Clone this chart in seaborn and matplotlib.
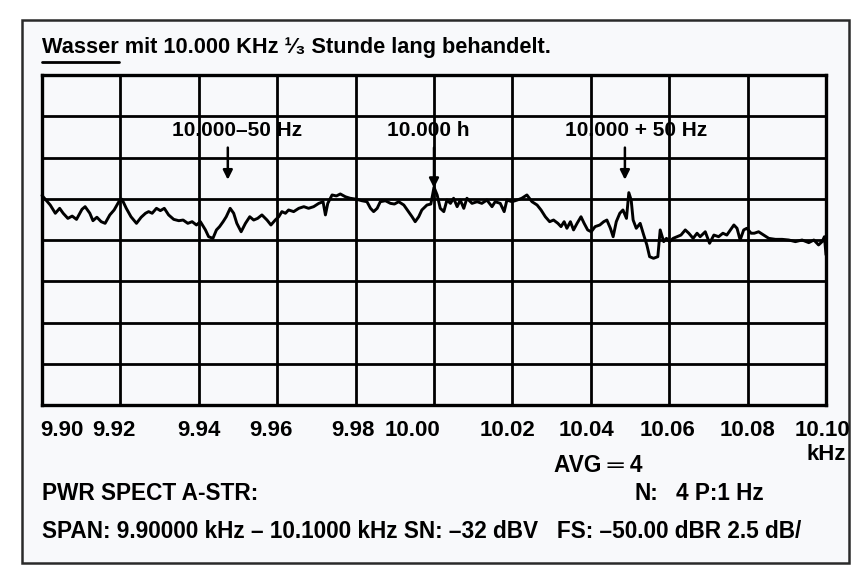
import numpy as np
import pandas as pd
import matplotlib
matplotlib.use("Agg")
import matplotlib.pyplot as plt
import matplotlib.transforms as mtransforms
from matplotlib.patches import Rectangle
from matplotlib.lines import Line2D
import seaborn as sns

# ---------------- data ----------------
offset_hz = [
    -100.0, -97.9, -96.6, -95.5, -94.6, -93.4, -92.3, -91.2, -89.8, -89.0,
    -87.8, -87.0, -86.0, -84.9, -83.9, -82.7, -81.6, -80.4, -79.6, -78.5,
    -77.3, -75.9, -74.7, -73.6, -72.8, -71.9, -70.8, -69.8, -68.8, -67.7,
    -66.4, -65.1, -64.0, -62.8, -61.7, -60.6, -59.6, -58.3, -57.5, -56.4,
    -55.5, -54.7, -53.8, -53.0, -52.0, -51.1, -50.3, -49.2, -48.1, -47.0,
    -46.0, -45.0, -43.9, -42.6, -41.6, -40.5, -39.6, -38.8, -37.9, -37.1,
    -35.8, -34.5, -33.2, -32.0, -30.7, -29.4, -28.3, -27.7, -27.1, -26.0,
    -24.9, -23.9, -22.6, -21.4, -19.8, -18.4, -17.1, -16.2, -15.4, -14.5,
    -13.7, -12.4, -11.1, -10.1, -9.0, -7.7, -6.5, -5.6, -4.8, -3.9,
    -3.1, -1.8, -0.8, 0.0, 0.8, 1.6, 2.5, 3.3, 4.2, 5.0,
    5.9, 6.7, 7.6, 8.4, 9.7, 11.0, 12.2, 13.5, 14.8, 15.6,
    16.9, 17.9, 18.6, 19.9, 21.2, 22.4, 23.7, 25.0, 26.3, 27.3,
    28.4, 29.5, 30.5, 31.6, 32.4, 33.2, 33.9, 34.8, 35.6, 36.5,
    37.5, 38.3, 39.2, 40.1, 41.1, 42.3, 43.3, 44.1, 45.0, 45.7,
    46.5, 47.4, 48.2, 49.1, 49.7, 50.3, 50.8, 51.6, 52.6, 53.5,
    54.3, 55.0, 56.0, 57.1, 57.7, 58.6, 59.3, 60.1, 61.0, 62.0,
    63.0, 64.1, 65.0, 66.1, 67.1, 67.9, 69.2, 70.3, 71.4, 72.6,
    73.7, 74.7, 75.6, 76.5, 77.3, 78.1, 79.0, 79.8, 80.9, 81.7,
    82.8, 84.1, 85.4, 87.1, 88.8, 90.5, 92.2, 93.9, 95.6, 96.9,
    98.1, 99.0, 99.6, 100.0,
]
level_db = [
    -57.30, -57.88, -58.38, -58.08, -58.38, -58.69, -58.55, -58.75, -58.14, -57.98,
    -58.38, -58.83, -58.62, -58.89, -58.99, -58.48, -58.18, -57.68, -57.53, -58.08,
    -58.59, -58.99, -58.62, -58.38, -58.28, -58.38, -58.08, -58.22, -58.08, -58.48,
    -58.75, -58.83, -58.79, -58.99, -58.89, -59.09, -58.89, -59.39, -59.80, -59.90,
    -59.39, -59.19, -58.89, -58.59, -58.08, -58.38, -58.99, -59.50, -58.99, -58.59,
    -58.79, -58.69, -58.48, -58.79, -59.09, -58.79, -58.59, -58.28, -58.38, -58.18,
    -58.28, -58.08, -57.98, -58.08, -57.98, -57.78, -57.68, -58.48, -57.78, -57.27,
    -57.33, -57.21, -57.38, -57.47, -57.53, -57.62, -57.68, -58.08, -58.28, -58.08,
    -57.68, -57.62, -57.78, -57.82, -57.68, -57.88, -58.28, -58.59, -58.89, -58.59,
    -58.18, -57.88, -57.82, -56.80, -57.27, -58.08, -58.28, -57.58, -57.78, -57.47,
    -57.98, -57.58, -58.08, -57.47, -57.78, -57.68, -57.78, -57.58, -57.98, -57.68,
    -57.78, -58.28, -57.58, -57.68, -57.58, -57.47, -57.27, -57.68, -57.88, -58.18,
    -58.59, -58.89, -58.79, -58.99, -59.19, -58.89, -59.29, -58.89, -59.39, -58.99,
    -58.59, -58.99, -59.39, -59.50, -59.19, -59.09, -58.89, -58.79, -59.29, -59.80,
    -58.89, -58.38, -58.18, -58.69, -57.13, -57.58, -58.79, -59.29, -58.99, -59.70,
    -60.30, -61.01, -61.11, -61.01, -59.39, -60.10, -59.90, -60.10, -59.90, -59.80,
    -59.70, -59.39, -59.59, -59.90, -59.59, -59.80, -59.50, -60.20, -59.70, -59.80,
    -59.59, -59.70, -59.39, -59.09, -59.29, -60.00, -59.39, -59.29, -59.59, -59.59,
    -59.50, -59.70, -59.90, -59.96, -59.96, -60.00, -60.10, -60.00, -60.16, -60.00,
    -60.30, -60.10, -59.80, -60.90,
]

x_ticks_khz = [9.90, 9.92, 9.94, 9.96, 9.98, 10.00, 10.02, 10.04, 10.06, 10.08, 10.10]
x_tick_labels = ["9.90", "9.92", "9.94", "9.96", "9.98", "10.00",
                 "10.02", "10.04", "10.06", "10.08", "10.10"]
y_grid_db = [-70.0, -67.5, -65.0, -62.5, -60.0, -57.5, -55.0, -52.5, -50.0]

marker_khz = [9.9474, 10.000, 10.0487]
marker_labels = ["10.000\u201350 Hz", "10.000 h", "10.000 + 50 Hz"]
marker_label_khz = [9.9497, 9.9985, 10.0515]
marker_tip_db = [-56.35, -56.85, -56.35]

title_text = "Wasser mit 10.000 KHz \u00b9\u2044\u2083 Stunde lang behandelt."
avg_text = "AVG \u2550 4"
pwr_text = "PWR SPECT A-STR:"
n_text = "N:"
p_text = "4 P:1 Hz"
span_text = "SPAN: 9.90000 kHz \u2013 10.1000 kHz SN: \u201332 dBV   FS: \u201350.00 dBR 2.5 dB/"
unit_text = "kHz"

df = pd.DataFrame({"freq_khz": 10.0 + np.array(offset_hz) / 1000.0,
                   "level_db": level_db})

# ---------------- style ----------------
sns.set_theme(style="white")
plt.rcParams["font.family"] = ["Liberation Sans", "DejaVu Sans"]
plt.rcParams["font.weight"] = "bold"
plt.rcParams["text.color"] = "black"

W, H = 851, 565
fig = plt.figure(figsize=(W / 100, H / 100), dpi=100)
fig.patch.set_facecolor("white")
PAPER = "#f8f9fb"


def fx(px):
    return px / W


def fy(py):
    return 1 - py / H


def fit_width(txt, target_px, base=13.0):
    fig.canvas.draw()
    w = txt.get_window_extent(fig.canvas.get_renderer()).width
    txt.set_fontsize(base * target_px / w)
    return txt.get_fontsize()


# outer scan frame (behind everything)
fig.patches.append(Rectangle((fx(22), fy(563)), fx(849) - fx(22), fy(20) - fy(563),
                             transform=fig.transFigure, fill=True,
                             facecolor=PAPER, edgecolor="#2a2a2a", lw=1.8,
                             zorder=-10))

left, right, top, bottom = 42, 826, 75, 405
ax = fig.add_axes([fx(left), fy(bottom), fx(right) - fx(left), fy(top) - fy(bottom)])
ax.set_zorder(1)
ax.set_facecolor(PAPER)

sns.lineplot(data=df, x="freq_khz", y="level_db", ax=ax, color="black",
             lw=2.1, sort=False, zorder=5, clip_on=False)

ax.set_xlim(x_ticks_khz[0], x_ticks_khz[-1])
ax.set_ylim(y_grid_db[0], y_grid_db[-1])
ax.set_xlabel("")
ax.set_ylabel("")
ax.set_yticks(y_grid_db)
ax.set_yticklabels([])
ax.set_xticks(x_ticks_khz)
ax.set_xticklabels(x_tick_labels, fontsize=16, fontweight="bold", color="black")
ax.tick_params(axis="both", length=0)
ax.tick_params(axis="x", pad=11)
ax.grid(True, color="black", lw=2.0)
ax.set_axisbelow(False)
for s in ax.spines.values():
    s.set_color("black")
    s.set_linewidth(2.4)
    s.set_visible(True)

# small per-label shifts (pixels) to mimic the printed label placement
label_shift_px = [20, -6, 0, -6, -3, -22, -5, -4, -2, 0, -3]
for lab, dx in zip(ax.get_xticklabels(), label_shift_px):
    lab.set_transform(lab.get_transform() +
                      mtransforms.ScaledTranslation(dx / 100, 0, fig.dpi_scale_trans))

# marker labels and arrows
for mk, lab, lx, tip in zip(marker_khz, marker_labels, marker_label_khz, marker_tip_db):
    ax.text(lx, -53.35, lab, ha="center", va="center", fontsize=15,
            fontweight="bold", color="black", zorder=3)
    ax.annotate("", xy=(mk, tip), xytext=(mk, -54.4),
                arrowprops=dict(arrowstyle="-|>", color="black", lw=1.8,
                                mutation_scale=14, shrinkA=0, shrinkB=0),
                zorder=6)

# title with underlined first word
ttl = fig.text(fx(42), fy(53), title_text, ha="left", va="baseline",
               fontsize=13, fontweight="bold", color="black")
fs_title = fit_width(ttl, 508)
probe = fig.text(fx(42), fy(53), "Wasser", ha="left", va="baseline",
                 fontsize=fs_title, fontweight="bold", alpha=0)
fig.canvas.draw()
pw = probe.get_window_extent(fig.canvas.get_renderer()).width
fig.add_artist(Line2D([fx(42), fx(42 + pw)], [fy(62), fy(62)], color="black",
                      lw=2.0, transform=fig.transFigure))

# footer texts (one common size, fitted to the SPAN line)
span = fig.text(fx(42), fy(531), span_text, ha="left", va="center",
                fontsize=13, fontweight="bold", color="black")
fs_foot = fit_width(span, 761)
fig.text(fx(42), fy(494), pwr_text, ha="left", va="center", fontsize=fs_foot,
         fontweight="bold", color="black")
fig.text(fx(635), fy(494), n_text, ha="left", va="center", fontsize=fs_foot,
         fontweight="bold", color="black")
fig.text(fx(676), fy(494), p_text, ha="left", va="center", fontsize=fs_foot,
         fontweight="bold", color="black")
fig.text(fx(554), fy(466), avg_text, ha="left", va="center", fontsize=fs_foot,
         fontweight="bold", color="black")
fig.text(fx(846), fy(454), unit_text, ha="right", va="center", fontsize=16,
         fontweight="bold", color="black")

fig.savefig("out.png", dpi=100)
